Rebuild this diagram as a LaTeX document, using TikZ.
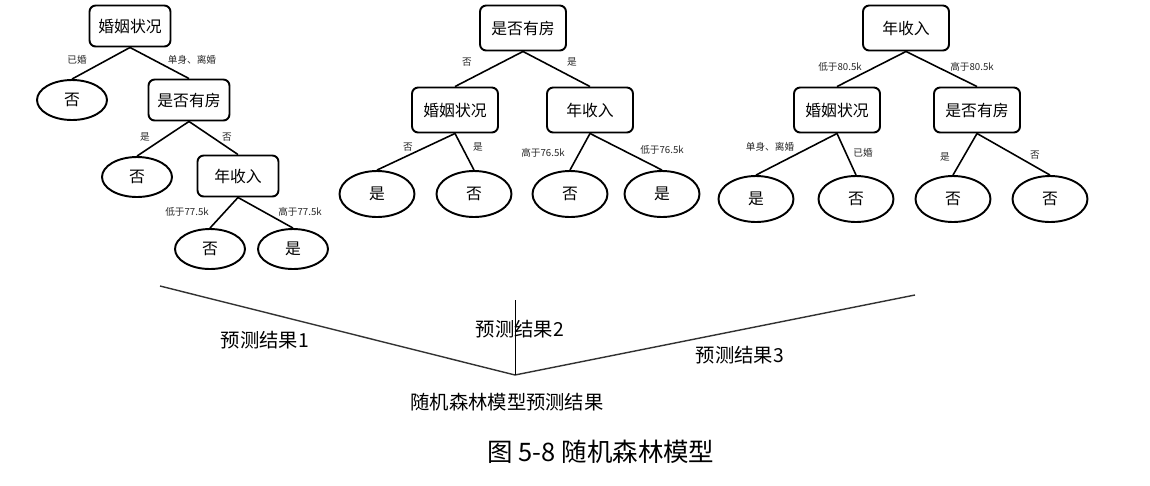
\documentclass[tikz,border=0pt]{standalone}
\usepackage{fontspec}
\setmainfont{Noto Sans CJK SC}
\usetikzlibrary{shapes.geometric}

\begin{document}
\begin{tikzpicture}[
  x=0.02cm, y=-0.02cm,
  attr/.style={rectangle,rounded corners=3.5pt,draw,line width=1.1pt,inner sep=0pt,minimum width=1.62cm,minimum height=0.82cm,font=\fontsize{9pt}{10pt}\selectfont},  bigattr/.style={attr,minimum width=1.72cm,minimum height=0.9cm},  leaf/.style={ellipse,draw,line width=1.1pt,inner sep=0pt,minimum width=1.4cm,minimum height=0.8cm,font=\fontsize{9pt}{10pt}\selectfont},  bigleaf/.style={leaf,minimum width=1.5cm,minimum height=0.92cm},  cond/.style={inner sep=0pt,text=black!85,font=\fontsize{5.5pt}{6pt}\selectfont},  edge/.style={line width=0.9pt},  result/.style={inner sep=0pt,font=\fontsize{11pt}{13pt}\selectfont}
]
  \useasboundingbox (0,0) rectangle (1150,485);
  % tree 1
  \node[attr] (a1) at (130,26) {婚姻状况};
  \node[leaf] (a1l) at (72,100) {否};
  \node[attr] (a2) at (189,100) {是否有房};
  \node[leaf] (a2l) at (137,177) {否};
  \node[attr] (a3) at (238,176) {年收入};
  \node[leaf] (a3l) at (210,249) {否};
  \node[leaf] (a3r) at (293,249) {是};
  \draw[edge] (a1.south) -- (a1l.north);
  \draw[edge] (a1.south) -- (a2.north);
  \draw[edge] (a2.south) -- (a2l.north);
  \draw[edge] (a2.south) -- (a3.north);
  \draw[edge] (a3.south) -- (a3l.north);
  \draw[edge] (a3.south) -- (a3r.north);
  \node[cond] (ka1) at (77,60) {已婚};
  \node[cond] (ka2) at (192,60) {单身、离婚};
  \node[cond] (ka3) at (145,137) {是};
  \node[cond] (ka4) at (227,137) {否};
  \node[cond] (ka5) at (187,212) {低于77.5k};
  \node[cond] (ka6) at (300,212) {高于77.5k};
  % tree 2
  \node[bigattr] (b1) at (523,28) {是否有房};
  \node[bigattr] (b2) at (455,110) {婚姻状况};
  \node[bigattr] (b3) at (590,110) {年收入};
  \node[bigleaf] (b2l) at (377,194) {是};
  \node[bigleaf] (b2r) at (474,194) {否};
  \node[bigleaf] (b3l) at (570,194) {否};
  \node[bigleaf] (b3r) at (662,194) {是};
  \draw[edge] (b1.south) -- (b2.north);
  \draw[edge] (b1.south) -- (b3.north);
  \draw[edge] (b2.south) -- (b2l.north);
  \draw[edge] (b2.south) -- (b2r.north);
  \draw[edge] (b3.south) -- (b3l.north);
  \draw[edge] (b3.south) -- (b3r.north);
  \node[cond] (kb1) at (467,62) {否};
  \node[cond] (kb2) at (572,62) {是};
  \node[cond] (kb3) at (408,147) {否};
  \node[cond] (kb4) at (478,147) {是};
  \node[cond] (kb5) at (543,153) {高于76.5k};
  \node[cond] (kb6) at (662,150) {低于76.5k};
  % tree 3
  \node[bigattr] (c1) at (906,28) {年收入};
  \node[bigattr] (c2) at (837,110) {婚姻状况};
  \node[bigattr] (c3) at (977,110) {是否有房};
  \node[bigleaf] (c2l) at (756,199) {是};
  \node[bigleaf] (c2r) at (856,199) {否};
  \node[bigleaf] (c3l) at (953,199) {否};
  \node[bigleaf] (c3r) at (1050,199) {否};
  \draw[edge] (c1.south) -- (c2.north);
  \draw[edge] (c1.south) -- (c3.north);
  \draw[edge] (c2.south) -- (c2l.north);
  \draw[edge] (c2.south) -- (c2r.north);
  \draw[edge] (c3.south) -- (c3l.north);
  \draw[edge] (c3.south) -- (c3r.north);
  \node[cond] (kc1) at (840,67) {低于80.5k};
  \node[cond] (kc2) at (972,67) {高于80.5k};
  \node[cond] (kc3) at (770,147) {单身、离婚};
  \node[cond] (kc4) at (863,153) {已婚};
  \node[cond] (kc5) at (945,157) {是};
  \node[cond] (kc6) at (1035,155) {否};
  % voting
  \coordinate (p1) at (160,286);
  \coordinate (p3) at (915,295);
  \coordinate (apex) at (515,375);
  \coordinate (ptop) at (515,300);
  \draw[line width=0.8pt,black!80] (p1) -- (apex) -- (p3);
  \draw[line width=0.5pt] (ptop) -- (apex);
  \node[result] (r1) at (265,340) {预测结果1};
  \node[result] (r2) at (520,329) {预测结果2};
  \node[result] (r3) at (740,355) {预测结果3};
  \node[result] (fin) at (507,402) {随机森林模型预测结果};
  \node[inner sep=0pt,font=\fontsize{14.5pt}{17pt}\selectfont] (cap) at (601,452) {图 5-8 随机森林模型};
\end{tikzpicture}
\end{document}
